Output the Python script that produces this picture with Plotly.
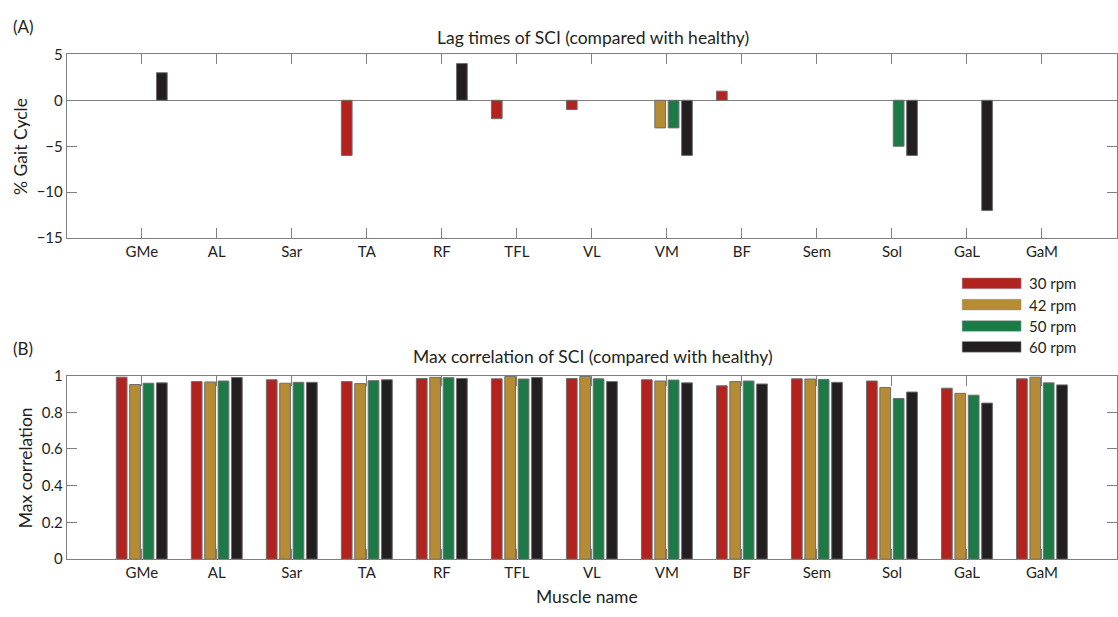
import plotly.graph_objects as go

muscles = ["GMe", "AL", "Sar", "TA", "RF", "TFL", "VL", "VM", "BF", "Sem", "Sol", "GaL", "GaM"]
speeds = ["30 rpm", "42 rpm", "50 rpm", "60 rpm"]
colors = ["#B2221E", "#B58B34", "#1B7A46", "#231F20"]

# (A) Lag times of SCI (% gait cycle)
lag_30 = [0, 0, 0, -6, 0, -2, -1, 0, 1, 0, 0, 0, 0]
lag_42 = [0, 0, 0, 0, 0, 0, 0, -3, 0, 0, 0, 0, 0]
lag_50 = [0, 0, 0, 0, 0, 0, 0, -3, 0, 0, -5, 0, 0]
lag_60 = [3, 0, 0, 0, 4, 0, 0, -6, 0, 0, -6, -12, 0]

# (B) Max correlation
corr_30 = [0.991, 0.967, 0.977, 0.967, 0.984, 0.982, 0.984, 0.977, 0.944, 0.982, 0.970, 0.931, 0.982]
corr_42 = [0.951, 0.965, 0.958, 0.956, 0.990, 0.995, 0.995, 0.970, 0.967, 0.981, 0.935, 0.903, 0.991]
corr_50 = [0.958, 0.970, 0.963, 0.972, 0.988, 0.981, 0.982, 0.975, 0.970, 0.979, 0.875, 0.893, 0.960]
corr_60 = [0.960, 0.989, 0.963, 0.977, 0.984, 0.989, 0.967, 0.960, 0.954, 0.963, 0.910, 0.850, 0.949]

lag_series = [lag_30, lag_42, lag_50, lag_60]
corr_series = [corr_30, corr_42, corr_50, corr_60]

W, H = 1118, 617
FONT = "Lato"
TXT = "#231F20"
AX = "#808080"
EDGE = "#6e6e6e"

fig = go.Figure()
for name, col, vals in zip(speeds, colors, lag_series):
    edge = [EDGE if v != 0 else "rgba(0,0,0,0)" for v in vals]
    fig.add_trace(go.Bar(x=muscles, y=vals, name=name,
                         marker=dict(color=col, line=dict(color=edge, width=1)),
                         xaxis="x", yaxis="y", showlegend=False))
for name, col, vals in zip(speeds, colors, corr_series):
    fig.add_trace(go.Bar(x=muscles, y=vals, name=name,
                         marker=dict(color=col, line=dict(color=EDGE, width=1)),
                         xaxis="x2", yaxis="y2", showlegend=False))

def px_x(p):
    return p / W

def px_y(p):
    return 1 - p / H

xdom = [px_x(66.8), 1.0]
common_x = dict(type="category", range=[-1, 13], showline=True, linecolor=AX, linewidth=1,
                ticks="inside", ticklen=10, tickcolor=AX, mirror="allticks", showgrid=False,
                tickfont=dict(family=FONT, size=15, color=TXT), domain=xdom, fixedrange=True)
common_y = dict(showline=True, linecolor=AX, linewidth=1, ticks="inside", ticklen=10, tickcolor=AX,
                mirror="allticks", showgrid=False, tickfont=dict(family=FONT, size=15, color=TXT))

fig.update_layout(
    width=W, height=H,
    margin=dict(l=0, r=0, t=0, b=0),
    paper_bgcolor="white", plot_bgcolor="white",
    barmode="group", bargap=0.286, bargroupgap=0.2,
    xaxis=dict(common_x, anchor="y"),
    yaxis=dict(common_y, range=[-15, 5], tickvals=[5, 0, -5, -10, -15],
               ticktext=["5", "0", "\u22125", "\u221210", "\u221215"],
               zeroline=True, zerolinecolor=AX, zerolinewidth=1,
               domain=[px_y(235), px_y(45.7)], anchor="x"),
    xaxis2=dict(common_x, anchor="y2"),
    yaxis2=dict(common_y, range=[0, 1], tickvals=[0, 0.2, 0.4, 0.6, 0.8, 1],
                ticktext=["0", "0.2", "0.4", "0.6", "0.8", "1"], zeroline=False,
                domain=[px_y(565.7), px_y(376.5)], anchor="x2"),
    font=dict(family=FONT, color=TXT),
)

ann = []
def add_text(x, y, text, size, xanchor="center", angle=0):
    ann.append(dict(x=px_x(x), y=px_y(y), xref="paper", yref="paper", text=text, showarrow=False,
                    xanchor=xanchor, yanchor="middle", textangle=angle,
                    font=dict(family=FONT, size=size, color=TXT)))

add_text(11, 17, "(A)", 17, "left")
add_text(11, 349, "(B)", 17, "left")
add_text(594, 28, "Lag times of SCI (compared with healthy)", 17.5)
add_text(594, 357, "Max correlation of SCI (compared with healthy)", 17.5)
add_text(21, 140, "% Gait Cycle", 17.5, angle=-90)
add_text(25, 471, "Max correlation", 17.5, angle=-90)
add_text(588, 604, "Muscle name", 17.5)

# custom legend (wide colour swatches)
leg_y = [281.5, 303.5, 325.5, 347]
shapes = []
for name, col, yc in zip(speeds, colors, leg_y):
    shapes.append(dict(type="rect", xref="paper", yref="paper",
                       x0=px_x(963), x1=px_x(1022), y0=px_y(yc + 5.5), y1=px_y(yc - 5.5),
                       fillcolor=col, line=dict(color="#9a9a9a", width=0.5)))
    add_text(1028, yc, name, 15, "left")

fig.update_layout(annotations=ann, shapes=shapes)
fig.write_html("out.html")
